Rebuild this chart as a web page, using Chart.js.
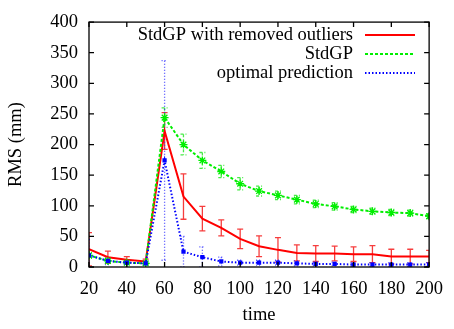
<!DOCTYPE html>
<html>
<head>
<meta charset="utf-8">
<script src="https://cdn.jsdelivr.net/npm/chart.js@4.4.1/dist/chart.umd.min.js"></script>
<style>
  html, body { margin: 0; padding: 0; background: #fff; }
  #wrap { width: 454px; height: 329px; }
</style>
</head>
<body>
<div id="wrap"><canvas id="myChart" width="454" height="329"></canvas></div>
<script>
const times = [20, 30, 40, 50, 60, 70, 80, 90, 100, 110, 120, 130, 140, 150, 160, 170, 180, 190, 200];

const removedOutliers = [29, 16, 12, 9, 222, 115, 79, 64, 46, 34, 28, 23, 22, 22, 21, 21, 17, 17, 17];
const removedOutliersErr = [27, 10, 5, 4, 30, 37, 20, 13, 16, 17, 20, 13, 13, 12, 12, 14, 12, 12, 10];

const stdGP = [19, 10, 7, 6, 244, 200, 174, 156, 136, 124, 117, 110, 103, 99, 94, 91, 89, 88, 83];
const stdGPErr = [5, 3, 2, 2, 16, 17, 13, 10, 10, 8, 7, 7, 6, 6, 5, 5, 5, 5, 4];

const optimal = [19, 10, 7, 6, 174, 25, 16, 9, 7, 7, 7, 6, 5, 5, 4, 4, 4, 4, 4];
const optimalErr = [26, 6, 3, 3, 163, 25, 17, 7, 4, 4, 4, 4, 3, 3, 3, 3, 3, 3, 3];

const xTicks = [20, 40, 60, 80, 100, 120, 140, 160, 180, 200];
const yTicks = [0, 50, 100, 150, 200, 250, 300, 350, 400];

const serif = "'Liberation Serif', 'DejaVu Serif', serif";
const fontSize = 18.5;

function toPoints(values){
    return values.map((v, i) => ({x: times[i], y: v}));
}

// error bars drawn with the chart's own scales
const errorBars = {
    id: 'errorBars',
    beforeDatasetsDraw(chart){
        const c = chart.ctx;
        const xs = chart.scales.x;
        const ys = chart.scales.y;
        const area = chart.chartArea;
        c.save();
        c.beginPath();
        c.rect(area.left, area.top, area.right - area.left, area.bottom - area.top);
        c.clip();
        chart.data.datasets.forEach(ds => {
            c.strokeStyle = ds.errColor;
            c.lineWidth = 1.3;
            c.setLineDash(ds.errDash);
            ds.data.forEach((p, i) => {
                const e = ds.err[i];
                const px = xs.getPixelForValue(p.x);
                const top = ys.getPixelForValue(p.y + e);
                const bot = ys.getPixelForValue(Math.max(p.y - e, 0));
                c.beginPath();
                c.moveTo(px, top);
                c.lineTo(px, bot);
                c.moveTo(px - 3, top);
                c.lineTo(px + 3, top);
                c.moveTo(px - 3, bot);
                c.lineTo(px + 3, bot);
                c.stroke();
            });
        });
        c.restore();
    }
};

// gnuplot-like frame, inward ticks on all sides and legend in the corner
const frame = {
    id: 'frame',
    afterDraw(chart){
        const c = chart.ctx;
        const xs = chart.scales.x;
        const ys = chart.scales.y;
        const a = chart.chartArea;
        c.save();
        c.strokeStyle = '#000';
        c.lineWidth = 1.3;
        c.setLineDash([]);
        c.strokeRect(a.left, a.top, a.right - a.left, a.bottom - a.top);
        c.beginPath();
        xTicks.forEach(t => {
            const px = xs.getPixelForValue(t);
            c.moveTo(px, a.bottom); c.lineTo(px, a.bottom - 5);
            c.moveTo(px, a.top); c.lineTo(px, a.top + 5);
        });
        yTicks.forEach(t => {
            const py = ys.getPixelForValue(t);
            c.moveTo(a.left, py); c.lineTo(a.left + 5, py);
            c.moveTo(a.right, py); c.lineTo(a.right - 5, py);
        });
        c.stroke();

        c.font = fontSize + 'px ' + serif;
        c.fillStyle = '#000';
        c.textAlign = 'right';
        c.textBaseline = 'middle';
        chart.data.datasets.forEach((ds, i) => {
            const y = a.top + 13 + i * 19;
            c.fillText(ds.label, a.left + 264, y);
            c.strokeStyle = ds.borderColor;
            c.lineWidth = ds.borderWidth;
            c.setLineDash(ds.borderDash || []);
            c.beginPath();
            c.moveTo(a.left + 276, y);
            c.lineTo(a.left + 326, y);
            c.stroke();
        });
        c.restore();
    }
};

const ctx = document.getElementById('myChart');
const chart = new Chart(ctx, {
    type: 'line',
    data: {
        datasets: [{
            label: 'StdGP with removed outliers',
            data: toPoints(removedOutliers),
            err: removedOutliersErr,
            errColor: 'rgba(245,40,40,0.9)',
            errDash: [],
            borderColor: '#ff0000',
            borderWidth: 2,
            pointRadius: 0,
            order: 3
        }, {
            label: 'StdGP',
            data: toPoints(stdGP),
            err: stdGPErr,
            errColor: 'rgba(40,230,40,0.85)',
            errDash: [3, 2],
            borderColor: '#00ee00',
            borderWidth: 2,
            borderDash: [3, 2],
            pointStyle: 'star',
            pointRadius: 4,
            pointBorderWidth: 1.3,
            pointBorderColor: '#00ee00',
            pointBackgroundColor: '#00ee00',
            order: 2
        }, {
            label: 'optimal prediction',
            data: toPoints(optimal),
            err: optimalErr,
            errColor: 'rgba(40,40,255,0.85)',
            errDash: [1, 2],
            borderColor: '#0000ff',
            borderWidth: 2,
            borderDash: [1.5, 2],
            pointStyle: 'rect',
            pointRadius: 3,
            pointBorderWidth: 0,
            pointBackgroundColor: '#0000ff',
            order: 1
        }]
    },
    options: {
        responsive: false,
        animation: false,
        layout: { padding: { top: 10, right: 16, left: 0, bottom: 0 } },
        plugins: { legend: { display: false }, tooltip: { enabled: false } },
        elements: { line: { tension: 0 } },
        scales: {
            x: {
                type: 'linear',
                min: 20,
                max: 200,
                afterBuildTicks: s => { s.ticks = xTicks.map(v => ({value: v})); },
                afterFit: s => { s.height = 62; },
                grid: { display: false, drawTicks: false },
                border: { display: false },
                ticks: { color: '#000', padding: 11, maxRotation: 0, font: { family: serif, size: fontSize } },
                title: { display: true, text: 'time', color: '#000', padding: { top: 0, bottom: 3 }, font: { family: serif, size: fontSize } }
            },
            y: {
                min: 0,
                max: 400,
                afterBuildTicks: s => { s.ticks = yTicks.map(v => ({value: v})); },
                afterFit: s => { s.width = 89; },
                grid: { display: false, drawTicks: false },
                border: { display: false },
                ticks: { color: '#000', padding: 11, font: { family: serif, size: fontSize } },
                title: { display: true, text: 'RMS (mm)', color: '#000', padding: { top: 5, bottom: 0 }, font: { family: serif, size: fontSize } }
            }
        }
    },
    plugins: [errorBars, frame]
});
</script>
</body>
</html>
